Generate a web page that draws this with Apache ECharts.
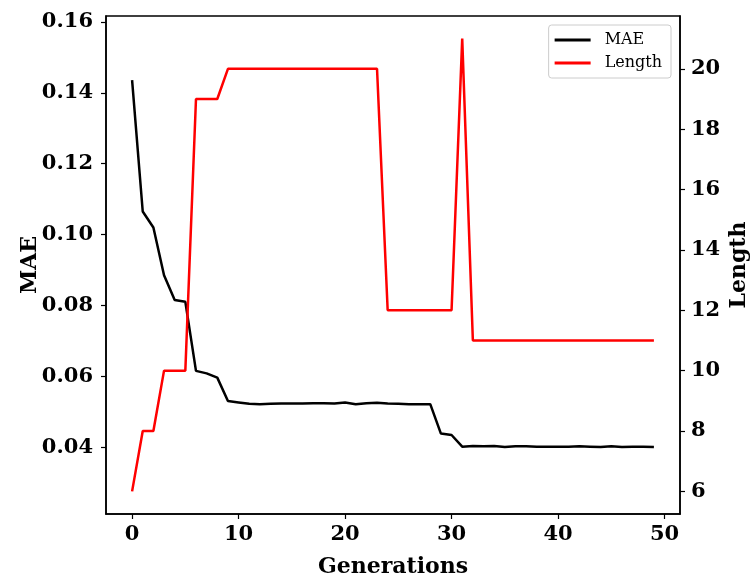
<!DOCTYPE html>
<html>
<head>
<meta charset="utf-8">
<script src="https://cdn.jsdelivr.net/npm/echarts@6/dist/echarts.min.js"></script>
<style>html,body{margin:0;padding:0;background:#fff;}#c{width:750px;height:577px;}</style>
</head>
<body>
<div id="c"></div>
<script>
var generations = [0,1,2,3,4,5,6,7,8,9,10,11,12,13,14,15,16,17,18,19,20,21,22,23,24,25,26,27,28,29,30,31,32,33,34,35,36,37,38,39,40,41,42,43,44,45,46,47,48,49];
var maeValues = [0.1436,0.1065,0.1020,0.0885,0.0815,0.0810,0.0615,0.0608,0.0596,0.0530,0.0526,0.0522,0.0521,0.0522,0.0523,0.0523,0.0523,0.0524,0.0524,0.0523,0.0526,0.0521,0.0524,0.0525,0.0523,0.0522,0.0521,0.0521,0.0521,0.0438,0.0434,0.0401,0.0403,0.0402,0.0403,0.0400,0.0402,0.0402,0.0401,0.0401,0.0401,0.0401,0.0402,0.0401,0.0400,0.0402,0.0400,0.0401,0.0401,0.0400];
var lengthValues = [6,8,8,10,10,10,19,19,19,20,20,20,20,20,20,20,20,20,20,20,20,20,20,20,12,12,12,12,12,12,12,21,11,11,11,11,11,11,11,11,11,11,11,11,11,11,11,11,11,11];
var xTicks = [0,10,20,30,40,50];
var maeTicks = [0.04,0.06,0.08,0.10,0.12,0.14,0.16];
var lengthTicks = [6,8,10,12,14,16,18,20];

var font = 'DejaVu Serif';
function pairs(xs, ys){ return xs.map(function(x,i){ return [x, ys[i]]; }); }

var chart = echarts.init(document.getElementById('c'), null, {renderer:'canvas'});
chart.setOption({
  animation: false,
  backgroundColor: '#fff',
  grid: {left:106, right:70, top:16, bottom:63, outerBoundsMode:'none', containLabel:false, show:true, borderColor:'#000', borderWidth:1.5, backgroundColor:'transparent'},
  legend: {
    right: 79, top: 25, orient: 'vertical',
    data: ['MAE','Length'],
    itemWidth: 36, itemHeight: 3, itemGap: 7,
    icon: 'rect',
    padding: [7, 9, 7, 6],
    borderColor: '#ccc', borderWidth: 1, borderRadius: 3,
    textStyle: {fontFamily: font, fontSize: 16, color:'#000', padding:[0,0,0,9]}
  },
  xAxis: {
    type: 'value', min: -2.45, max: 51.45,
    name: 'Generations', nameLocation: 'middle', nameGap: 42, nameMoveOverlap: false,
    nameTextStyle: {fontFamily: font, fontWeight:'bold', fontSize: 22, color:'#000'},
    axisLine: {show:true, onZero:false, lineStyle:{color:'#000', width:1.5}},
    axisTick: {show:true, length:5, customValues: xTicks, lineStyle:{color:'#000', width:1.2}},
    axisLabel: {customValues: xTicks, fontFamily: font, fontWeight:'bold', fontSize: 21, color:'#000', margin: 10},
    splitLine: {show:false}
  },
  yAxis: [{
    type: 'value', min: 0.0211, max: 0.1617, position: 'left',
    name: 'MAE', nameLocation: 'middle', nameGap: 65, nameRotate: 90, nameMoveOverlap: false,
    nameTextStyle: {fontFamily: font, fontWeight:'bold', fontSize: 22, color:'#000'},
    axisLine: {show:true, onZero:false, lineStyle:{color:'#000', width:1.5}},
    axisTick: {show:true, length:5, customValues: maeTicks, lineStyle:{color:'#000', width:1.2}},
    axisLabel: {customValues: maeTicks, formatter: function(v){return v.toFixed(2);}, fontFamily: font, fontWeight:'bold', fontSize: 21, color:'#000', margin: 13},
    splitLine: {show:false}
  },{
    type: 'value', min: 5.25, max: 21.75, position: 'right',
    name: 'Length', nameLocation: 'middle', nameGap: 48, nameRotate: 90, nameMoveOverlap: false,
    nameTextStyle: {fontFamily: font, fontWeight:'bold', fontSize: 22, color:'#000'},
    axisLine: {show:true, onZero:false, lineStyle:{color:'#000', width:1.5}},
    axisTick: {show:true, length:5, customValues: lengthTicks, lineStyle:{color:'#000', width:1.2}},
    axisLabel: {customValues: lengthTicks, fontFamily: font, fontWeight:'bold', fontSize: 21, color:'#000', margin: 11},
    splitLine: {show:false}
  }],
  series: [{
    name: 'MAE', type: 'line', yAxisIndex: 0, showSymbol: false, symbol:'none',
    data: pairs(generations, maeValues),
    lineStyle: {color:'#000', width:2.5}, itemStyle:{color:'#000'}
  },{
    name: 'Length', type: 'line', yAxisIndex: 1, showSymbol: false, symbol:'none',
    data: pairs(generations, lengthValues),
    lineStyle: {color:'#ff0000', width:2.5}, itemStyle:{color:'#ff0000'}
  }]
});
</script>
</body>
</html>
